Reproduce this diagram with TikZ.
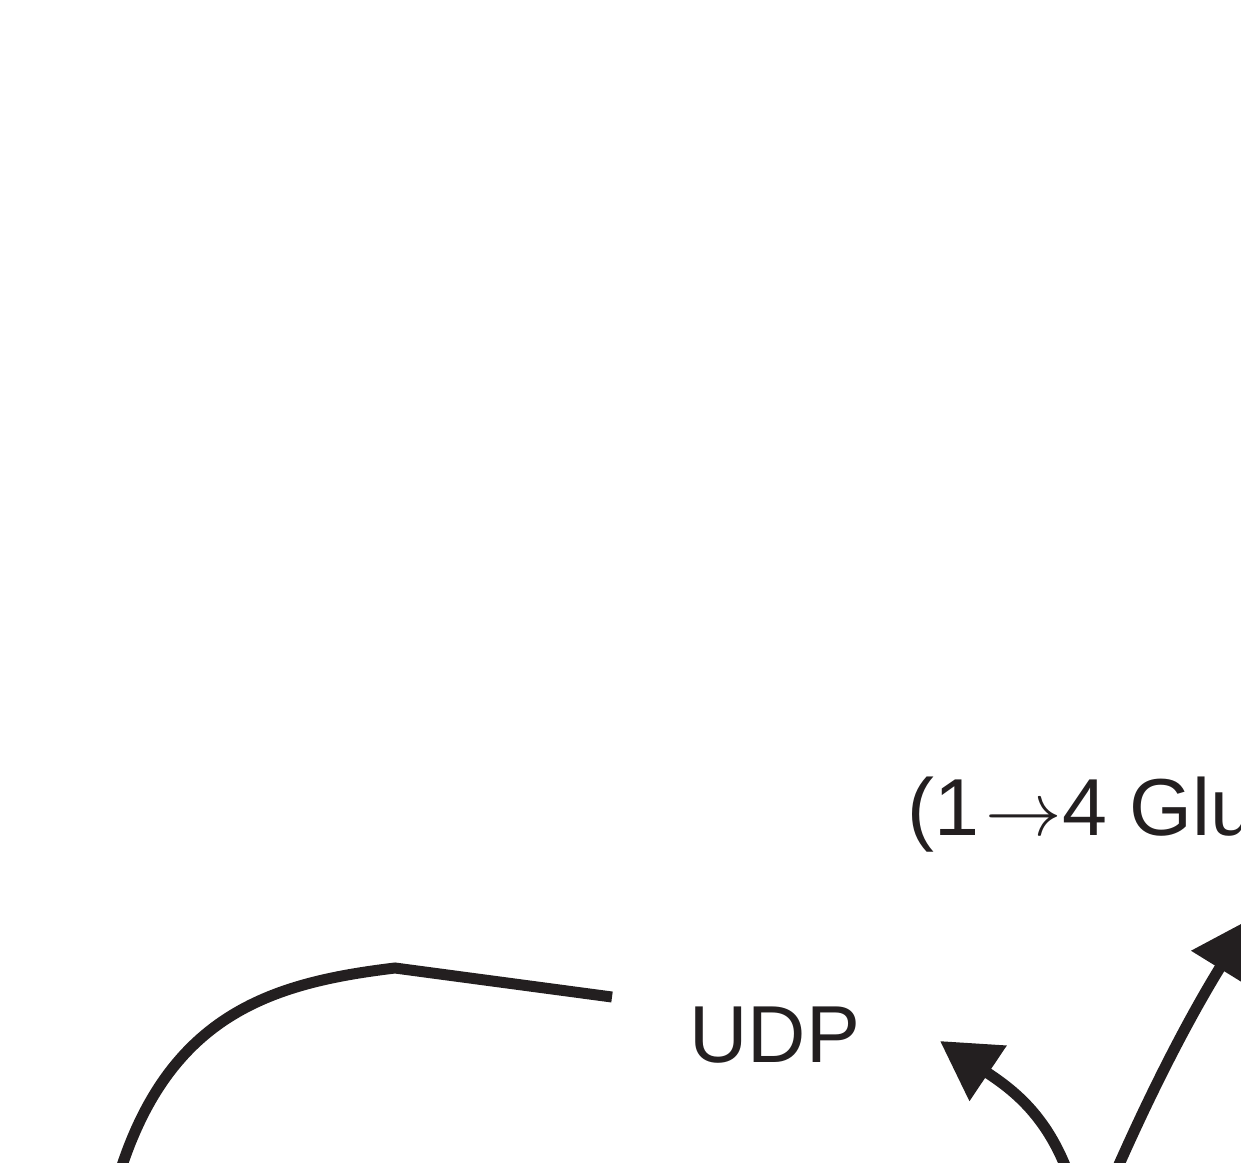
\documentclass[tikz,border=0pt]{standalone}
\usepackage{fontspec}
\setmainfont{Liberation Sans}
\usepackage{tikz}
\usetikzlibrary{arrows.meta}
\definecolor{ink}{HTML}{231F20}
\def\bigtext{\fontsize{46}{52}\selectfont}
\def\linkarrow{\hspace{0.08em}\scalebox{1.75}{$\rightarrow$}}
\tikzset{
  stroke/.style={draw=ink,line width=0.22cm,line cap=butt,line join=miter},
  pointer/.style={stroke,-{Triangle[length=1.16cm,width=1.28cm]},fill=none},
  label/.style={text=ink,inner sep=0pt,anchor=base west,font=\bigtext}
}

\begin{document}
\begin{tikzpicture}[x=0.02cm,y=-0.02cm]
    \useasboundingbox (0,0) rectangle (1241,1163);
    \clip (0,0) rectangle (1241,1163);
    \node[label] (glu) at (907,835) {(1\linkarrow4 Glu};
    \node[label] (udp) at (689,1062) {UDP};
    % free ends of the connectors
    \coordinate (loop start) at (116,1185);
    \coordinate (loop top) at (395,968);
    \coordinate (loop end) at (612,997);
    \coordinate (udp src) at (1072,1185);
    \coordinate (udp tip) at (940,1041);
    \coordinate (glu src) at (1110,1185);
    \coordinate (glu tip) at (1250,919);
    \draw[stroke] (loop start) .. controls (165,1015) and (270,983) .. (loop top) -- (loop end);
    \draw[pointer] (udp src) .. controls (1050,1115) and (1010,1088) .. (udp tip);
    \draw[pointer] (glu src) .. controls (1160,1070) and (1200,1000) .. (glu tip);
\end{tikzpicture}
\end{document}
